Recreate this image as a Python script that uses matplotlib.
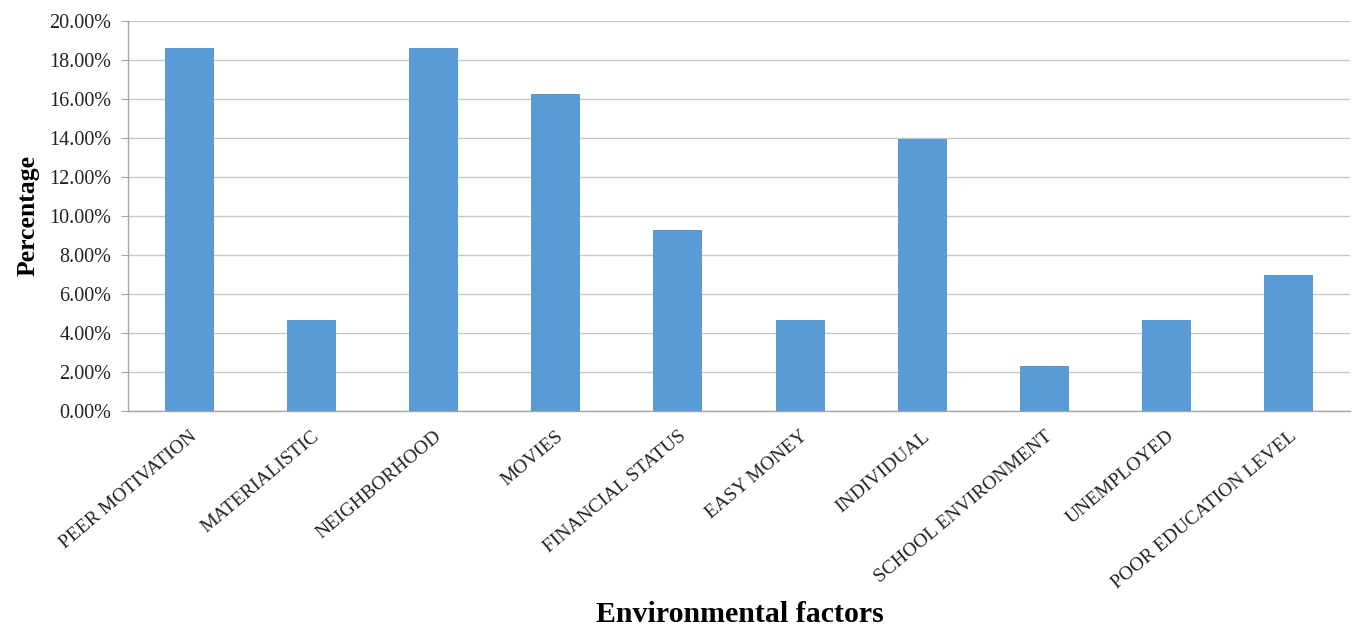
import matplotlib
matplotlib.use("Agg")
import matplotlib.pyplot as plt
from matplotlib.ticker import FuncFormatter, MultipleLocator

categories = [
    "PEER MOTIVATION", "MATERIALISTIC", "NEIGHBORHOOD", "MOVIES",
    "FINANCIAL STATUS", "EASY MONEY", "INDIVIDUAL", "SCHOOL ENVIRONMENT",
    "UNEMPLOYED", "POOR EDUCATION LEVEL",
]
percentages = [18.60, 4.65, 18.60, 16.28, 9.30, 4.65, 13.95, 2.33, 4.65, 6.98]

plt.rcParams["font.family"] = ["Liberation Serif", "DejaVu Serif"]

W, H = 1355, 625
fig = plt.figure(figsize=(W / 100, H / 100), dpi=100)
ax = fig.add_axes([128 / W, 1 - 411 / H, (1350 - 128) / W, (411 - 21) / H])

x = list(range(len(categories)))
ax.bar(x, percentages, width=0.4, color="#5B9BD5", zorder=3)

ax.set_xlim(-0.5, len(categories) - 0.5)
ax.set_ylim(0, 20)
ax.yaxis.set_major_locator(MultipleLocator(2))
ax.yaxis.set_major_formatter(FuncFormatter(lambda v, _: f"{v:.2f}%"))
ax.grid(axis="y", color="#c8c8c8", linewidth=1.0, zorder=0)

for side in ("top", "right"):
    ax.spines[side].set_visible(False)
for side in ("left", "bottom"):
    ax.spines[side].set_color("#a6a6a6")
    ax.spines[side].set_linewidth(1.0)

ax.tick_params(axis="y", length=5, color="#a6a6a6", labelsize=14.5, pad=7,
               labelcolor="#222222")
ax.tick_params(axis="x", length=0, labelsize=14, pad=12, labelcolor="#222222")
ax.set_xticks(x)
ax.set_xticklabels(categories, rotation=40, ha="right", rotation_mode="anchor")

fig.text(28 / W, 1 - 216 / H, "Percentage", fontsize=18.5, fontweight="bold",
         rotation=90, ha="center", va="center")
fig.text(740 / W, 1 - 614 / H, "Environmental factors", fontsize=21.5,
         fontweight="bold", ha="center", va="center")

fig.savefig("out.png", dpi=100)
